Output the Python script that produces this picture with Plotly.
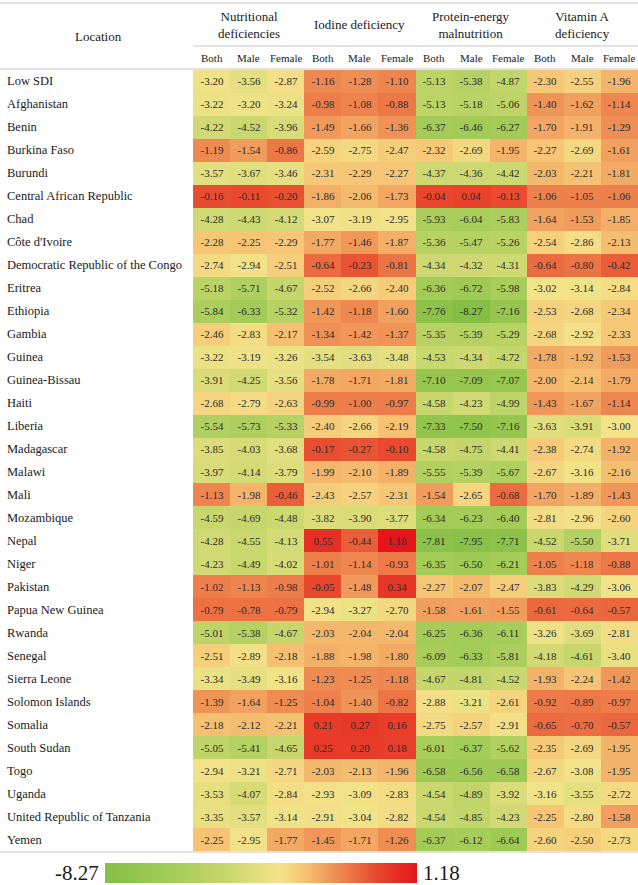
import plotly.graph_objects as go

W, H = 638, 885

locations = [
    "Low SDI", "Afghanistan", "Benin", "Burkina Faso", "Burundi",
    "Central African Republic", "Chad", "Côte d'Ivoire",
    "Democratic Republic of the Congo", "Eritrea", "Ethiopia", "Gambia",
    "Guinea", "Guinea-Bissau", "Haiti", "Liberia", "Madagascar", "Malawi",
    "Mali", "Mozambique", "Nepal", "Niger", "Pakistan", "Papua New Guinea",
    "Rwanda", "Senegal", "Sierra Leone", "Solomon Islands", "Somalia",
    "South Sudan", "Togo", "Uganda", "United Republic of Tanzania", "Yemen",
]

groups = ["Nutritional<br>deficiencies", "Iodine deficiency",
          "Protein-energy<br>malnutrition", "Vitamin A<br>deficiency"]
sexes = ["Both", "Male", "Female"]

# [Both, Male, Female] per location
nutritional = [
    [-3.20, -3.56, -2.87], [-3.22, -3.20, -3.24], [-4.22, -4.52, -3.96],
    [-1.19, -1.54, -0.86], [-3.57, -3.67, -3.46], [-0.16, -0.11, -0.20],
    [-4.28, -4.43, -4.12], [-2.28, -2.25, -2.29], [-2.74, -2.94, -2.51],
    [-5.18, -5.71, -4.67], [-5.84, -6.33, -5.32], [-2.46, -2.83, -2.17],
    [-3.22, -3.19, -3.26], [-3.91, -4.25, -3.56], [-2.68, -2.79, -2.63],
    [-5.54, -5.73, -5.33], [-3.85, -4.03, -3.68], [-3.97, -4.14, -3.79],
    [-1.13, -1.98, -0.46], [-4.59, -4.69, -4.48], [-4.28, -4.55, -4.13],
    [-4.23, -4.49, -4.02], [-1.02, -1.13, -0.98], [-0.79, -0.78, -0.79],
    [-5.01, -5.38, -4.67], [-2.51, -2.89, -2.18], [-3.34, -3.49, -3.16],
    [-1.39, -1.64, -1.25], [-2.18, -2.12, -2.21], [-5.05, -5.41, -4.65],
    [-2.94, -3.21, -2.71], [-3.53, -4.07, -2.84], [-3.35, -3.57, -3.14],
    [-2.25, -2.95, -1.77],
]
iodine = [
    [-1.16, -1.28, -1.10], [-0.98, -1.08, -0.88], [-1.49, -1.66, -1.36],
    [-2.59, -2.75, -2.47], [-2.31, -2.29, -2.27], [-1.86, -2.06, -1.73],
    [-3.07, -3.19, -2.95], [-1.77, -1.46, -1.87], [-0.64, -0.23, -0.81],
    [-2.52, -2.66, -2.40], [-1.42, -1.18, -1.60], [-1.34, -1.42, -1.37],
    [-3.54, -3.63, -3.48], [-1.78, -1.71, -1.81], [-0.99, -1.00, -0.97],
    [-2.40, -2.66, -2.19], [-0.17, -0.27, -0.10], [-1.99, -2.10, -1.89],
    [-2.43, -2.57, -2.31], [-3.82, -3.90, -3.77], [0.55, -0.44, 1.18],
    [-1.01, -1.14, -0.93], [-0.05, -1.48, 0.34], [-2.94, -3.27, -2.70],
    [-2.03, -2.04, -2.04], [-1.88, -1.98, -1.80], [-1.23, -1.25, -1.18],
    [-1.04, -1.40, -0.82], [0.21, 0.27, 0.16], [0.25, 0.20, 0.18],
    [-2.03, -2.13, -1.96], [-2.93, -3.09, -2.83], [-2.91, -3.04, -2.82],
    [-1.45, -1.71, -1.26],
]
protein = [
    [-5.13, -5.38, -4.87], [-5.13, -5.18, -5.06], [-6.37, -6.46, -6.27],
    [-2.32, -2.69, -1.95], [-4.37, -4.36, -4.42], [-0.04, 0.04, -0.13],
    [-5.93, -6.04, -5.83], [-5.36, -5.47, -5.26], [-4.34, -4.32, -4.31],
    [-6.36, -6.72, -5.98], [-7.76, -8.27, -7.16], [-5.35, -5.39, -5.29],
    [-4.53, -4.34, -4.72], [-7.10, -7.09, -7.07], [-4.58, -4.23, -4.99],
    [-7.33, -7.50, -7.16], [-4.58, -4.75, -4.41], [-5.55, -5.39, -5.67],
    [-1.54, -2.65, -0.68], [-6.34, -6.23, -6.40], [-7.81, -7.95, -7.71],
    [-6.35, -6.50, -6.21], [-2.27, -2.07, -2.47], [-1.58, -1.61, -1.55],
    [-6.25, -6.36, -6.11], [-6.09, -6.33, -5.81], [-4.67, -4.81, -4.52],
    [-2.88, -3.21, -2.61], [-2.75, -2.57, -2.91], [-6.01, -6.37, -5.62],
    [-6.58, -6.56, -6.58], [-4.54, -4.89, -3.92], [-4.54, -4.85, -4.23],
    [-6.37, -6.12, -6.64],
]
vitamin_a = [
    [-2.30, -2.55, -1.96], [-1.40, -1.62, -1.14], [-1.70, -1.91, -1.29],
    [-2.27, -2.69, -1.61], [-2.03, -2.21, -1.81], [-1.06, -1.05, -1.06],
    [-1.64, -1.53, -1.85], [-2.54, -2.86, -2.13], [-0.64, -0.80, -0.42],
    [-3.02, -3.14, -2.84], [-2.53, -2.68, -2.34], [-2.68, -2.92, -2.33],
    [-1.78, -1.92, -1.53], [-2.00, -2.14, -1.79], [-1.43, -1.67, -1.14],
    [-3.63, -3.91, -3.00], [-2.38, -2.74, -1.92], [-2.67, -3.16, -2.16],
    [-1.70, -1.89, -1.43], [-2.81, -2.96, -2.60], [-4.52, -5.50, -3.71],
    [-1.05, -1.18, -0.88], [-3.83, -4.29, -3.06], [-0.61, -0.64, -0.57],
    [-3.26, -3.69, -2.81], [-4.18, -4.61, -3.40], [-1.93, -2.24, -1.42],
    [-0.92, -0.89, -0.97], [-0.65, -0.70, -0.57], [-2.35, -2.69, -1.95],
    [-2.67, -3.08, -1.95], [-3.16, -3.55, -2.72], [-2.25, -2.80, -1.58],
    [-2.60, -2.50, -2.73],
]

z = [n + i + p + v for n, i, p, v in zip(nutritional, iodine, protein, vitamin_a)]
zmin = min(min(r) for r in z)
zmax = max(max(r) for r in z)

# colour anchors (value -> colour)
anchors = [
    (zmin, "#84BF45"), (-6.0, "#A8CD5B"), (-4.5, "#CAD76F"),
    (-3.0, "#F3E38A"), (-2.3, "#F6C776"), (-1.5, "#F09A5B"),
    (-0.8, "#EC7344"), (0.0, "#E8442C"), (zmax, "#E6151C"),
]
colorscale = [[(v - zmin) / (zmax - zmin), c] for v, c in anchors]

SERIF = "Liberation Serif"
ncol = 12
nrow = len(locations)

def py(px):
    return 1 - px / H

def pxx(px):
    return px / W

data_top, data_bot = 70, 851
x_left = 193

fig = go.Figure(go.Heatmap(
    z=z, x=list(range(ncol)), y=list(range(nrow)),
    colorscale=colorscale, zmin=zmin, zmax=zmax,
    texttemplate="%{z:.2f}",
    textfont=dict(family=SERIF, size=11, color="#2b2b2b"),
    hoverinfo="skip", xgap=0, ygap=0,
    colorbar=dict(orientation="h", x=pxx(261), xanchor="center",
                  y=py(873), yanchor="middle", len=312 / W, lenmode="fraction",
                  thickness=20, outlinewidth=0, showticklabels=False,
                  ticks="", xpad=0, ypad=0),
))

fig.update_xaxes(domain=[pxx(x_left), 1.0], range=[-0.5, ncol - 0.5],
                 visible=False, fixedrange=True)
fig.update_yaxes(domain=[py(data_bot), py(data_top)], range=[nrow - 0.5, -0.5],
                 visible=False, fixedrange=True)

ann = []
for i, loc in enumerate(locations):
    ann.append(dict(x=pxx(5), xref="paper", y=i, yref="y", text=loc,
                    showarrow=False, xanchor="left", yanchor="middle",
                    font=dict(family=SERIF, size=12.5, color="#1a1a1a")))

ann.append(dict(x=pxx(98), xref="paper", y=py(36), yref="paper", text="Location",
                showarrow=False, xanchor="center", yanchor="middle",
                font=dict(family=SERIF, size=13, color="#1a1a1a")))

for g, name in enumerate(groups):
    ann.append(dict(x=g * 3 + 1, xref="x", y=py(25), yref="paper", text=name,
                    showarrow=False, xanchor="center", yanchor="middle",
                    font=dict(family=SERIF, size=13, color="#1a1a1a")))
    for s, sx in enumerate(sexes):
        ann.append(dict(x=g * 3 + s, xref="x", y=py(58), yref="paper", text=sx,
                        showarrow=False, xanchor="center", yanchor="middle",
                        font=dict(family=SERIF, size=11, color="#1a1a1a")))

ann.append(dict(x=pxx(101), xref="paper", y=py(873), yref="paper",
                text=f"{zmin:.2f}", showarrow=False, xanchor="right",
                yanchor="middle", font=dict(family=SERIF, size=21, color="#1a1a1a")))
ann.append(dict(x=pxx(421), xref="paper", y=py(873), yref="paper",
                text=f"{zmax:.2f}", showarrow=False, xanchor="left",
                yanchor="middle", font=dict(family=SERIF, size=21, color="#1a1a1a")))

line_col = "#e2e2e2"
shapes = [
    dict(type="line", xref="paper", yref="paper", x0=0, x1=1, y0=py(3), y1=py(3),
         line=dict(color=line_col, width=2)),
    dict(type="line", xref="paper", yref="paper", x0=pxx(x_left), x1=1,
         y0=py(46), y1=py(46), line=dict(color=line_col, width=2)),
    dict(type="line", xref="paper", yref="paper", x0=0, x1=1,
         y0=py(69), y1=py(69), line=dict(color=line_col, width=2)),
    dict(type="line", xref="paper", yref="paper", x0=0, x1=1,
         y0=py(852), y1=py(852), line=dict(color=line_col, width=2)),
]

fig.update_layout(
    width=W, height=H, margin=dict(l=0, r=0, t=0, b=0),
    paper_bgcolor="white", plot_bgcolor="white",
    annotations=ann, shapes=shapes, showlegend=False,
)

fig.write_html(
    "out.html",
    config={"displayModeBar": False},
    post_script="document.body.style.margin='0';document.body.style.overflow='hidden';",
)
